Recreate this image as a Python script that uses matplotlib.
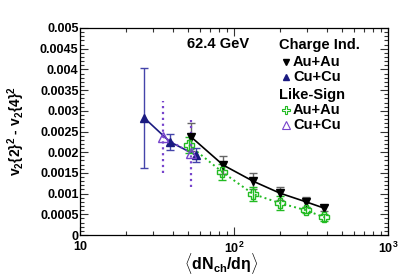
import matplotlib
matplotlib.use("Agg")
import matplotlib.pyplot as plt
from matplotlib.ticker import MultipleLocator, NullFormatter, LogLocator
from matplotlib.lines import Line2D

plt.rcParams['font.family'] = ['Liberation Sans', 'DejaVu Sans']
plt.rcParams['mathtext.fontset'] = 'custom'
plt.rcParams['mathtext.rm'] = 'Liberation Sans:bold'
plt.rcParams['mathtext.it'] = 'Liberation Sans:bold'
plt.rcParams['mathtext.bf'] = 'Liberation Sans:bold'

# Charge independent Au+Au
auau_ci_x = [52.6, 85, 133, 199, 294, 384]
auau_ci_y = [0.00237, 0.00169, 0.00130, 0.00101, 0.00080, 0.00065]
auau_ci_e = [0.00033, 0.00022, 0.00020, 0.00016, 0.00012, 0.00008]
# Charge independent Cu+Cu
cucu_ci_x = [26.1, 38.4, 56.6]
cucu_ci_y = [0.00283, 0.00225, 0.00193]
cucu_ci_e = [0.00120, 0.00020, 0.00016]
# Like-sign Au+Au
auau_ls_x = [51.0, 84, 133, 199, 292, 384]
auau_ls_y = [0.00217, 0.00152, 0.00099, 0.00077, 0.00060, 0.00043]
auau_ls_e = [0.00020, 0.00020, 0.00017, 0.00017, 0.00008, 0.00008]
# Like-sign Cu+Cu
cucu_ls_x = [34.6, 52.6]
cucu_ls_y = [0.00237, 0.00198]
cucu_ls_e = [0.00087, 0.00083]

y_ticks = [0, 0.0005, 0.001, 0.0015, 0.002, 0.0025, 0.003, 0.0035, 0.004, 0.0045, 0.005]
y_ticklabels = ['0', '0.0005', '0.001', '0.0015', '0.002', '0.0025', '0.003', '0.0035',
                '0.004', '0.0045', '0.005']
x_ticks = [10, 100, 1000]
x_ticklabels = ['10', r'$10^{2}$', r'$10^{3}$']

fig = plt.figure(figsize=(4.15, 2.76), dpi=100)
ax = fig.add_axes([80/415, 41/276, 308/415, 207/276])
ax.set_xscale('log')
ax.set_xlim(10, 1000)
ax.set_ylim(0, 0.005)

black = '#000000'
navy = '#1a1a80'
green = '#22bb22'
purple = '#7744cc'

ax.plot(auau_ci_x, auau_ci_y, '-', color=black, lw=1.2, zorder=3)
ax.errorbar(auau_ci_x, auau_ci_y, yerr=auau_ci_e, fmt='v', color=black, ecolor='#666666',
            ms=6, capsize=3, elinewidth=1, capthick=1, zorder=4)
ax.plot(cucu_ci_x, cucu_ci_y, '-', color=navy, lw=1.2, zorder=3)
ax.errorbar(cucu_ci_x, cucu_ci_y, yerr=cucu_ci_e, fmt='^', color=navy, ecolor='#4444aa',
            ms=6, capsize=3, elinewidth=1, capthick=1, zorder=4)
ax.plot(auau_ls_x, auau_ls_y, ':', color=green, lw=1.4, zorder=3)
ax.errorbar(auau_ls_x, auau_ls_y, yerr=auau_ls_e, fmt='P', mfc='none', mec=green, color=green,
            ecolor=green, ms=7, mew=1, capsize=3, elinewidth=1, capthick=1, zorder=4)
ax.plot(cucu_ls_x, cucu_ls_y, ':', color=purple, lw=1.4, zorder=3)
eb = ax.errorbar(cucu_ls_x, cucu_ls_y, yerr=cucu_ls_e, fmt='^', mfc='none', mec=purple, color=purple,
                 ecolor=purple, ms=7, mew=1, capsize=0, elinewidth=1.6, zorder=4)
for lc in eb[2]:
    lc.set_linestyle(':')

ax.set_yticks(y_ticks)
ax.set_yticklabels(y_ticklabels)
ax.yaxis.set_minor_locator(MultipleLocator(0.0001))
ax.set_xticks(x_ticks)
ax.set_xticklabels(x_ticklabels)
ax.xaxis.set_minor_locator(LogLocator(base=10, subs=range(2, 10)))
ax.xaxis.set_minor_formatter(NullFormatter())
ax.tick_params(which='both', direction='in', top=True, right=True, labelsize=9, width=0.8, color='#333333')
ax.tick_params(which='major', length=6)
ax.tick_params(which='minor', length=3)
for lab in ax.get_xticklabels() + ax.get_yticklabels():
    lab.set_fontweight('bold')
ax.tick_params(axis='y', pad=1)
ax.tick_params(axis='x', pad=4)
for s in ax.spines.values():
    s.set_linewidth(0.9)

ax.set_ylabel(r'v$_{2}${2}$^{2}$ - v$_{2}${4}$^{2}$', fontsize=10, fontweight='bold')
ax.yaxis.set_label_coords(-(80 - 27) / 308, (235 - 131) / 207)
ax.set_xlabel(r'$\langle$dN$_{ch}$/d$\eta\rangle$', fontsize=11.5, fontweight='bold')
ax.xaxis.set_label_coords((221 - 80) / 308, -(264 - 235) / 207)
ax.xaxis.label.set_va('center')

ax.text(187/415, 1 - 44/276, '62.4 GeV', transform=fig.transFigure, fontsize=10.5, fontweight='bold',
        va='center', ha='left')

def ftxt(x, y, s):
    fig.text(x/415, 1 - y/276, s, fontsize=10.5, fontweight='bold', va='center', ha='left')

ftxt(279, 45, 'Charge Ind.')
ftxt(293, 62, 'Au+Au')
ftxt(293, 77, 'Cu+Cu')
ftxt(279, 95, 'Like-Sign')
ftxt(293, 110, 'Au+Au')
ftxt(293, 125, 'Cu+Cu')

def fmark(x, y, **kw):
    fig.add_artist(Line2D([x/415], [1 - y/276], transform=fig.transFigure, **kw))

fmark(286, 62, marker='v', color=black, ms=4.5, ls='none')
fmark(286, 77, marker='^', color=navy, ms=4.5, ls='none')
fmark(286, 110, marker='P', mfc='none', mec=green, ms=5.5, mew=0.8, ls='none')
fmark(286, 125, marker='^', mfc='none', mec=purple, ms=5.5, mew=0.8, ls='none')

fig.savefig('out.png', dpi=100)
